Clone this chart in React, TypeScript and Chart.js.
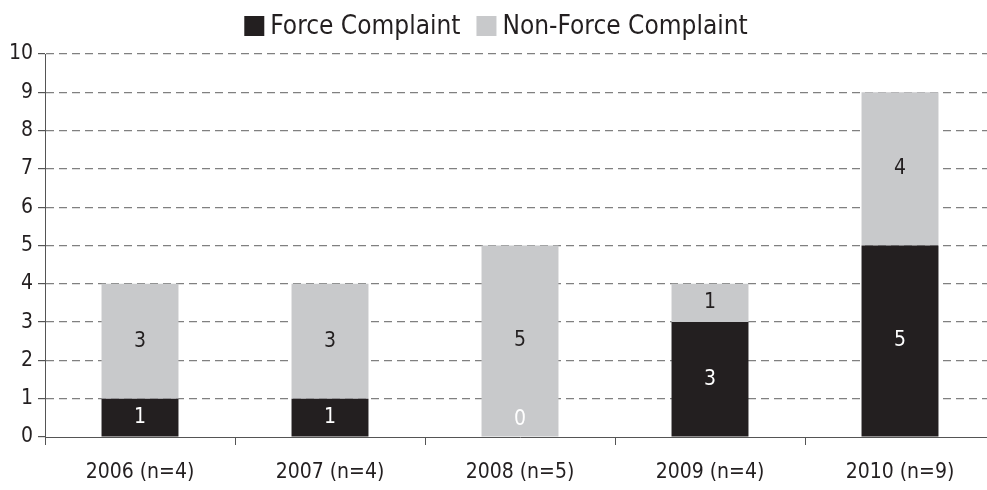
import React, { useEffect, useRef } from "react";
import { Chart, registerables } from "chart.js";

Chart.register(...registerables);

const categories = ["2006 (n=4)", "2007 (n=4)", "2008 (n=5)", "2009 (n=4)", "2010 (n=9)"];
const forceValues = [1, 1, 0, 3, 5];
const nonForceValues = [3, 3, 5, 1, 4];
const seriesNames = ["Force Complaint", "Non-Force Complaint"];
const seriesColors = ["#231f20", "#c8c9cb"];
const labelColors = ["#ffffff", "#231f20"];
const yMax = 10;

const FONT = "'Liberation Sans Narrow', 'Arial Narrow', 'DejaVu Sans Condensed', sans-serif";

const valueLabels = {
  id: "valueLabels",
  afterDatasetsDraw(chart: any) {
    const ctx = chart.ctx;
    ctx.save();
    ctx.font = `21px ${FONT}`;
    ctx.textAlign = "center";
    ctx.textBaseline = "middle";
    chart.data.datasets.forEach((ds: any, di: number) => {
      const meta = chart.getDatasetMeta(di);
      meta.data.forEach((el: any, i: number) => {
        const v = ds.data[i];
        let y = (el.y + el.base) / 2;
        if (v === 0) y = el.base - 17;
        ctx.fillStyle = labelColors[di];
        ctx.fillText(String(v), el.x, y);
      });
    });
    ctx.restore();
  },
};

const customLegend = {
  id: "customLegend",
  afterDraw(chart: any) {
    const ctx = chart.ctx;
    ctx.save();
    ctx.font = `26px ${FONT}`;
    ctx.textBaseline = "middle";
    ctx.textAlign = "left";
    const box = 20;
    const gap = 6;
    const spacing = 16;
    const widths = seriesNames.map((n) => ctx.measureText(n).width);
    const total = widths.reduce((a, w) => a + box + gap + w, 0) + spacing * (seriesNames.length - 1);
    let x = 496 - total / 2;
    const cy = 26;
    seriesNames.forEach((n, i) => {
      ctx.fillStyle = seriesColors[i];
      ctx.fillRect(x, cy - box / 2, box, box);
      x += box + gap;
      ctx.fillStyle = "#231f20";
      ctx.fillText(n, x, cy + 1);
      x += widths[i] + spacing;
    });
    ctx.restore();
  },
};

export default function App() {
  const ref = useRef<HTMLCanvasElement>(null);
  useEffect(() => {
    if (!ref.current) return;
    const chart = new Chart(ref.current, {
      type: "bar",
      data: {
        labels: categories,
        datasets: [
          { label: seriesNames[0], data: forceValues, backgroundColor: seriesColors[0], barPercentage: 0.405, categoryPercentage: 1 },
          { label: seriesNames[1], data: nonForceValues, backgroundColor: seriesColors[1], barPercentage: 0.405, categoryPercentage: 1 },
        ],
      },
      options: {
        responsive: false,
        animation: false,
        layout: { padding: { top: 54, right: 5, left: 0, bottom: 0 } },
        plugins: { legend: { display: false }, tooltip: { enabled: false } },
        scales: {
          x: {
            stacked: true,
            grid: { display: true, drawOnChartArea: false, drawTicks: true, tickLength: 8, tickColor: "#555", offset: true },
            border: { display: true, color: "#555", width: 1 },
            ticks: { color: "#231f20", font: { family: FONT, size: 21 }, padding: 15 },
            afterFit: (s: any) => { s.height = 53; },
          },
          y: {
            stacked: true,
            min: 0,
            max: yMax,
            grid: {
              color: (c: any) => (c.tick && c.tick.value === 0 ? "rgba(0,0,0,0)" : "#808080"),
              lineWidth: 1.2,
              tickLength: 7,
              tickColor: "#555",
            },
            border: { display: true, color: "#555", width: 1, dash: [8, 5] },
            ticks: { stepSize: 1, color: "#231f20", font: { family: FONT, size: 21 }, padding: 5 },
            afterFit: (s: any) => { s.width = 45; },
          },
        },
      },
      plugins: [valueLabels, customLegend],
    });
    return () => chart.destroy();
  }, []);
  return (
    <div style={{ position: "fixed", left: 0, top: 0, width: 987, height: 490, overflow: "hidden", background: "#fff" }}>
      <canvas ref={ref} width={1000} height={490} />
    </div>
  );
}
